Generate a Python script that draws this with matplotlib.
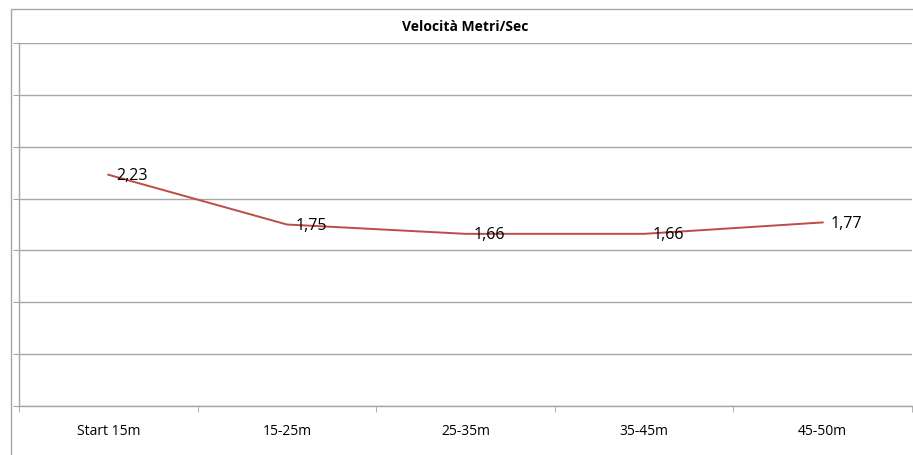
import matplotlib
matplotlib.use("Agg")
import matplotlib.pyplot as plt
from matplotlib.patches import Rectangle

categories = ["Start 15m", "15-25m", "25-35m", "35-45m", "45-50m"]
values = [2.23, 1.75, 1.66, 1.66, 1.77]
labels = ["2,23", "1,75", "1,66", "1,66", "1,77"]
title = "Velocità Metri/Sec"

W, H = 913, 455
fig = plt.figure(figsize=(W / 100, H / 100), dpi=100)
plt.rcParams['font.family'] = ['Open Sans', 'DejaVu Sans']

# outer chart border
fig.patches.append(Rectangle((11 / W, -0.1), 1.2, 1.1 - 9 / H, transform=fig.transFigure,
                             fill=False, edgecolor="#a6a6a6", linewidth=1.0))

ax = fig.add_axes([19 / W, 1 - 406 / H, (912 - 19) / W, (406 - 43) / H])
x = list(range(len(categories)))
ax.plot(x, values, color="#be4b48", linewidth=1.4)
for xi, v, lab in zip(x, values, labels):
    ax.annotate(lab, (xi, v), xytext=(6, -1), textcoords="offset points",
                ha="left", va="center", fontsize=11.5, color="black")

ax.set_xlim(-0.5, len(categories) - 0.5)
ax.set_ylim(0, 3.5)
ax.set_yticks([i * 0.5 for i in range(8)])
ax.set_yticklabels([])
ax.yaxis.grid(True, color="#a6a6a6", linewidth=1.0)
ax.set_axisbelow(True)
ax.set_xticks(x)
ax.set_xticklabels(categories, fontsize=10)
ax.set_xticks([i - 0.5 for i in range(len(categories) + 1)], minor=True)
ax.tick_params(axis="x", which="major", length=0, pad=13)
ax.tick_params(axis="x", which="minor", length=4, color="#a6a6a6", direction="out")
ax.tick_params(axis="y", length=4, color="#a6a6a6", direction="out")
for s in ["top", "right"]:
    ax.spines[s].set_visible(False)
for s in ["left", "bottom"]:
    ax.spines[s].set_color("#a6a6a6")
    ax.spines[s].set_linewidth(1.0)

fig.text((19 + 912) / 2 / W, 1 - 27 / H, title, ha="center", va="center",
         fontsize=10, fontweight="bold")

fig.savefig("out.png", dpi=100)
